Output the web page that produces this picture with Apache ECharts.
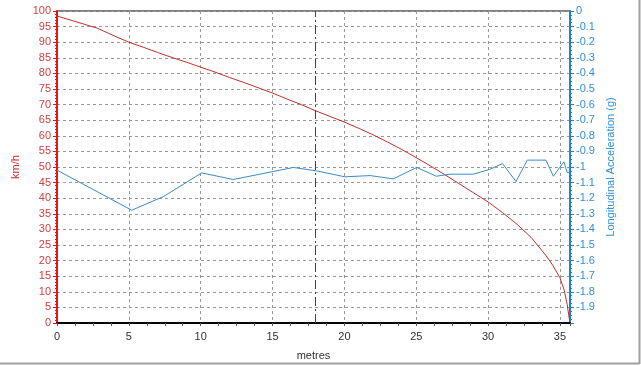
<!DOCTYPE html>
<html><head><meta charset="utf-8">
<script src="https://cdn.jsdelivr.net/npm/echarts@6/dist/echarts.min.js"></script>
<style>html,body{margin:0;padding:0;background:#fff}#c{width:641px;height:366px}</style>
</head><body><div id="c"></div>
<script>
const speedDist = [0,2.8,4,5,6,7,8,9,10,11,12,13,14,15,16,17,18,19,20,21,22,23,24,25,26,27,28,29,30,31,32,33,34,34.5,35,35.3,35.5,35.68];
const speedKmh  = [98.4,94.5,92,90,88.4,86.7,85.1,83.6,82,80.4,78.7,77.1,75.4,73.7,71.8,70,68,66.2,64.4,62.4,60.3,58,55.6,53,50.3,47.5,44.6,41.7,38.8,35.4,31.7,27.4,21.8,18.5,14.5,10.5,6,0.5];
const accDist = [0,5.2,7.4,10.07,12.27,16.45,18.07,20.04,21.8,23.4,25.03,26.4,27.35,28.97,30.1,31.0,31.94,32.73,34.03,34.54,35.28,35.5,35.66,35.68];
const accG    = [-1.02,-1.277,-1.19,-1.038,-1.08,-1.003,-1.025,-1.063,-1.055,-1.076,-1.003,-1.059,-1.046,-1.046,-1.016,-0.978,-1.093,-0.956,-0.956,-1.059,-0.967,-1.035,-1.035,-0.71];
const cursorX = 18;

const chart = echarts.init(document.getElementById('c'));
const font = 'Liberation Sans, Arial, sans-serif';
chart.setOption({
  animation:false,
  backgroundColor:'#fff',
  textStyle:{fontFamily:font},
  grid:{left:57,right:71,top:11,bottom:43,show:true,borderColor:'#000',borderWidth:1,backgroundColor:'#fff'},
  xAxis:{type:'value',min:0,max:35.7,interval:5,
    name:'metres',nameLocation:'middle',nameGap:27,nameTextStyle:{color:'#333',fontSize:11,fontFamily:font},
    axisLine:{lineStyle:{color:'#000',width:2}},
    axisTick:{show:true,length:3,lineStyle:{color:'#555'}},
    minorTick:{show:true,splitNumber:4,length:3,lineStyle:{color:'#555'}},
    axisLabel:{color:'#333',fontSize:11,fontFamily:font,margin:8,showMaxLabel:false},
    splitLine:{show:true,lineStyle:{color:'#999',type:[3,3],width:1}}},
  yAxis:[
    {type:'value',min:0,max:100,interval:5,position:'left',
     name:'km/h',nameLocation:'middle',nameGap:30,nameRotate:90,nameTextStyle:{color:'#cc2a2a',fontSize:11,fontFamily:font},
     axisLine:{show:true,lineStyle:{color:'#ee1111',width:2}},
     axisTick:{show:true,length:4,lineStyle:{color:'#ee1111'}},
     minorTick:{show:true,splitNumber:5,length:2,lineStyle:{color:'#ee1111'}},
     axisLabel:{color:'#d04040',fontSize:11,fontFamily:font,margin:6},
     splitLine:{show:true,lineStyle:{color:'#999',type:[3,3],width:1}}},
    {type:'value',min:-2,max:0,interval:0.1,position:'right',
     name:'Longitudinal Acceleration (g)',nameLocation:'middle',nameGap:31,nameRotate:90,nameTextStyle:{color:'#3090d8',fontSize:11,fontFamily:font},
     axisLine:{show:true,lineStyle:{color:'#1a7fe0',width:2}},
     axisTick:{show:true,length:4,lineStyle:{color:'#1a7fe0'}},
     minorTick:{show:true,splitNumber:4,length:2,lineStyle:{color:'#1a7fe0'}},
     axisLabel:{color:'#3090d8',fontSize:11,fontFamily:font,margin:6,showMinLabel:false,
       formatter:v=>String(Math.round(v*10)/10)},
     splitLine:{show:false}}
  ],
  series:[
    {type:'line',yAxisIndex:0,data:speedDist.map((d,i)=>[d,speedKmh[i]]),showSymbol:false,
     lineStyle:{color:'#c0302c',width:1},z:3,
     markLine:{silent:true,symbol:'none',label:{show:false},
       lineStyle:{color:'#9a1c1c',type:[9,3,2,3],width:1},data:[{xAxis:cursorX}]}},
    {type:'line',yAxisIndex:1,data:accDist.map((d,i)=>[d,accG[i]]),showSymbol:false,
     lineStyle:{color:'#3a8cc8',width:1},z:4}
  ],
  graphic:[
    {type:'line',shape:{x1:0,y1:363.5,x2:639.5,y2:363.5},style:{stroke:'#a0a0a0',lineWidth:2}},
    {type:'line',shape:{x1:639.5,y1:0,x2:639.5,y2:364},style:{stroke:'#a0a0a0',lineWidth:2}}
  ]
});
</script></body></html>
